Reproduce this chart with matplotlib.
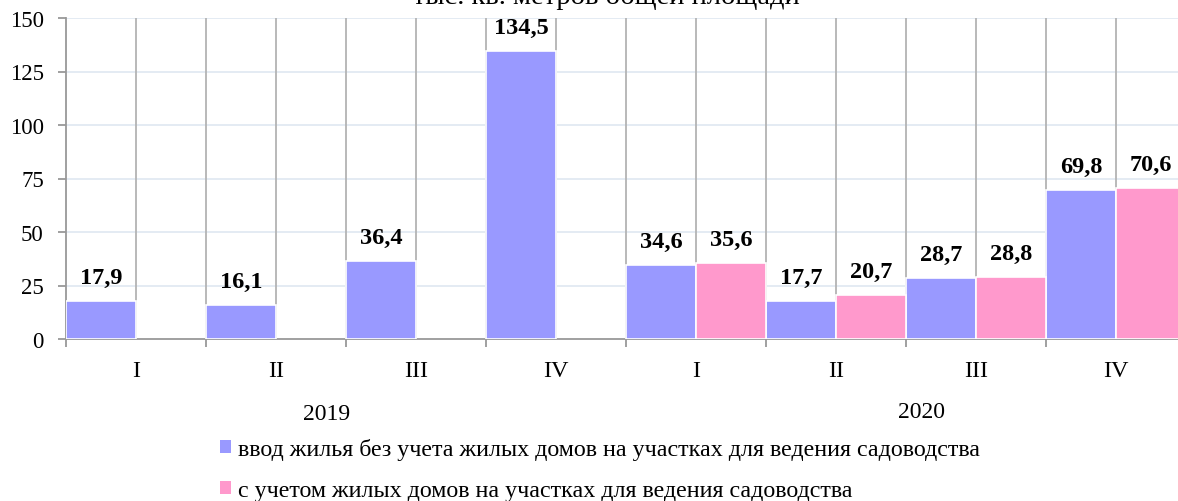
import numpy as np
import matplotlib
matplotlib.use('Agg')
import matplotlib.pyplot as plt
from matplotlib.patches import Patch

title = 'тыс. кв. метров общей площади'
years = ['2019', '2020']
quarters = ['I', 'II', 'III', 'IV', 'I', 'II', 'III', 'IV']
series1_name = 'ввод жилья без учета жилых домов на участках для ведения садоводства'
series2_name = 'с учетом жилых домов на участках для ведения садоводства'
series1 = [17.9, 16.1, 36.4, 134.5, 34.6, 17.7, 28.7, 69.8]
series2 = [None, None, None, None, 35.6, 20.7, 28.8, 70.6]
yticks = [0, 25, 50, 75, 100, 125, 150]

plt.rcParams['font.family'] = ['Liberation Serif', 'DejaVu Serif']

W, H = 1178, 502
fig = plt.figure(figsize=(W / 100, H / 100), dpi=100)
ax = fig.add_axes([66 / W, 1 - 340 / H, 1120 / W, 321 / H])

c1 = '#9999ff'
c2 = '#ff99cc'
x = np.arange(len(quarters))
ax.bar(x, series1, width=0.5, align='edge', color=c1, edgecolor='white', linewidth=1.2, zorder=3)
x2 = [xi + 0.5 for xi, v in zip(x, series2) if v is not None]
v2 = [v for v in series2 if v is not None]
ax.bar(x2, v2, width=0.5, align='edge', color=c2, edgecolor='white', linewidth=1.2, zorder=3)

def fmt(v):
    return f'{v:.1f}'.replace('.', ',')

for xi, v in zip(x, series1):
    ax.annotate(fmt(v), (xi + 0.25, v), xytext=(0, 13), textcoords='offset points',
                ha='center', va='baseline', fontweight='bold', fontsize=17.5, zorder=5)
for xi, v in zip(x2, v2):
    ax.annotate(fmt(v), (xi + 0.25, v), xytext=(0, 13), textcoords='offset points',
                ha='center', va='baseline', fontweight='bold', fontsize=17.5, zorder=5)

ax.set_xlim(0, len(quarters))
ax.set_ylim(0, 150)
ax.set_yticks(yticks)
ax.set_yticklabels([str(t) for t in yticks])

# vertical grid at every half-category
for gx in np.arange(0.5, len(quarters), 0.5):
    ax.axvline(gx, color='#b3b3b3', lw=1.3, zorder=1)
for gy in yticks[1:]:
    ax.axhline(gy, color='#dfe7f1', lw=1.2, zorder=0.5)

ax.set_xticks(x)
ax.set_xticklabels([])
ax.set_xticks(x + 0.5, minor=True)
ax.set_xticklabels(quarters, minor=True)
ax.tick_params(axis='x', which='major', length=5.5, width=1.3, color='#999999', direction='out')
ax.tick_params(axis='x', which='minor', length=0, pad=15, labelsize=17.5)
ax.tick_params(axis='y', length=6, width=1.3, color='#999999', direction='out', pad=10, labelsize=16.5)

for s in ['top', 'right']:
    ax.spines[s].set_visible(False)
ax.spines['left'].set_color('#999999')
ax.spines['left'].set_linewidth(1.3)
ax.spines['bottom'].set_color('#999999')
ax.spines['bottom'].set_linewidth(1.3)

fig.text(606 / W, 1 - 4.5 / H, title, ha='center', va='baseline', fontsize=20.5)
fig.text(327 / W, 1 - 414 / H, years[0], ha='center', va='center', fontsize=17)
fig.text(922 / W, 1 - 412 / H, years[1], ha='center', va='center', fontsize=17)

handles = [Patch(facecolor=c1, edgecolor='none'), Patch(facecolor=c2, edgecolor='none')]
fig.legend(handles, [series1_name, series2_name], loc='upper left',
           bbox_to_anchor=(220 / W, 1 - 439 / H), frameon=False, fontsize=17.3,
           handlelength=0.45, handleheight=0.45, handletextpad=0.3, labelspacing=0.85,
           borderpad=0, borderaxespad=0)

fig.savefig('out.png', dpi=100)
